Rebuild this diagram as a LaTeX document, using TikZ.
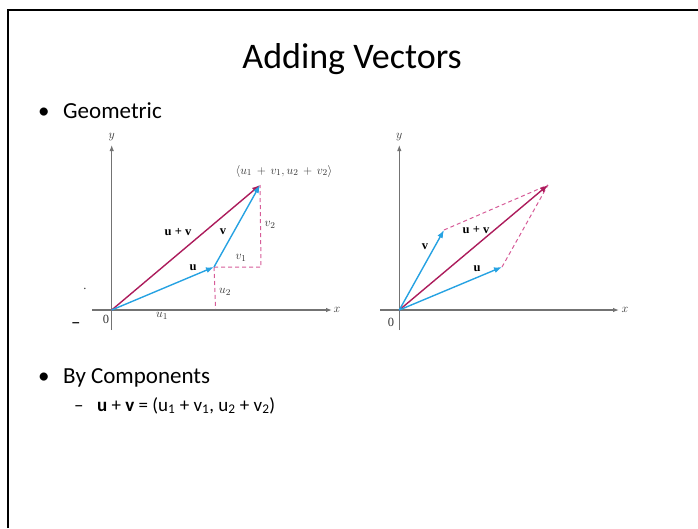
\documentclass[tikz,border=0pt]{standalone}
\usepackage{fontspec}
\setmainfont{Carlito}
\newfontfamily\figfont{Liberation Serif}
\usepackage{xcolor}
\usetikzlibrary{arrows.meta, positioning}
\definecolor{vecblue}{RGB}{38,162,226}
\definecolor{vecsum}{RGB}{172,28,92}
\definecolor{dashpink}{RGB}{214,92,152}
\definecolor{axisgray}{RGB}{115,115,115}

\begin{document}
\begin{tikzpicture}[x=1pt, y=-1pt,
  eje/.style={draw=axisgray, line width=1.1pt, -{Latex[length=6pt,width=4.5pt]}},
  vec/.style={draw=vecblue, line width=1.4pt, -{Latex[length=8pt,width=6pt]}},
  suma/.style={draw=vecsum, line width=1.4pt, -{Latex[length=8pt,width=6pt]}},
  guia/.style={draw=dashpink, line width=1pt, dash pattern=on 4pt off 3pt},
  etiq/.style={font=\figfont\fontsize{12.5}{14}\selectfont, inner sep=0pt, text=black!80},
  negrita/.style={font=\figfont\bfseries\fontsize{12.5}{14}\selectfont, inner sep=0pt},
  titulo/.style={font=\fontsize{36}{42}\selectfont, inner sep=0pt, anchor=base east},
  punto/.style={font=\fontsize{23}{27}\selectfont, inner sep=0pt, anchor=base west},
  subpunto/.style={font=\fontsize{19}{23}\selectfont, inner sep=0pt, anchor=base west}
]
\useasboundingbox (0,0) rectangle (698,528);
\draw[line width=2.6pt] (8,528) -- (8,10) -- (698,10);

% ── TEXTO ────────────────────────────────────────────────────

\node[titulo] (titulo) at (462,68) {Adding Vectors};
\node[punto] (bala1) at (38,118) {•};
\node[punto] (geom) at (63,118) {Geometric};
\node[punto] (bala2) at (38,383) {•};
\node[punto] (comp) at (63,383) {By Components};
\node[subpunto] (guion) at (74,411) {–};
\node[subpunto] (formula) at (97,411)
  {\textbf{u} + \textbf{v} = (u\textsubscript{1} + v\textsubscript{1}, u\textsubscript{2} + v\textsubscript{2})};
\node[subpunto] (guion0) at (71,328) {–};
\node[etiq] (mota) at (85,289) {.};

% ── GRAFICA IZQUIERDA ────────────────────────────────────────

\coordinate (O1) at (111.7,310);
\coordinate (xa1) at (92,310);
\coordinate (xb1) at (332,310);
\coordinate (ya1) at (111.7,330);
\coordinate (yb1) at (111.7,145);
\coordinate (U1) at (214,267);
\coordinate (W1) at (260,185);
\coordinate (C1) at (261,267);
\coordinate (D1) at (215.5,309);

\draw[eje] (xa1) -- (xb1);
\draw[eje] (ya1) -- (yb1);
\draw[guia] (U1) -- (C1) -- (W1);
\draw[guia] (U1) -- (D1);
\draw[suma] (O1) -- (W1);
\draw[vec] (O1) -- (U1);
\draw[vec] (U1) -- (W1);

\node[etiq] (y1) at (111.7,137) {$y$};
\node[etiq] (x1) at (337,310) {$x$};
\node[etiq] (cero1) at (106,319) {0};
\node[etiq] (u1) at (162,316) {$u_1$};
\node[etiq] (u2) at (225,292) {$u_2$};
\node[etiq] (v1) at (241,258) {$v_1$};
\node[etiq] (v2) at (270,225) {$v_2$};
\node[negrita] (ub1) at (193,268) {u};
\node[negrita] (vb1) at (223,232) {v};
\node[negrita] (sb1) at (178,232) {u + v};
\node[etiq] (punta) at (284,171) {$\langle u_1\,+\,v_1, u_2\,+\,v_2\rangle$};

% ── GRAFICA DERECHA ──────────────────────────────────────────

\coordinate (O2) at (399.3,310);
\coordinate (xa2) at (380,310);
\coordinate (xb2) at (619,310);
\coordinate (ya2) at (399.3,330);
\coordinate (yb2) at (399.3,145);
\coordinate (U2) at (502,267);
\coordinate (V2) at (444,230);
\coordinate (W2) at (548,185);

\draw[eje] (xa2) -- (xb2);
\draw[eje] (ya2) -- (yb2);
\draw[guia] (V2) -- (W2);
\draw[guia] (U2) -- (W2);
\draw[suma] (O2) -- (W2);
\draw[vec] (O2) -- (U2);
\draw[vec] (O2) -- (V2);

\node[etiq] (y2) at (399.3,137) {$y$};
\node[etiq] (x2) at (625,310) {$x$};
\node[etiq] (cero2) at (391,322) {0};
\node[negrita] (sb2) at (476,230) {u + v};
\node[negrita] (vb2) at (425,247) {v};
\node[negrita] (ub2) at (477,269) {u};

\end{tikzpicture}
\end{document}
